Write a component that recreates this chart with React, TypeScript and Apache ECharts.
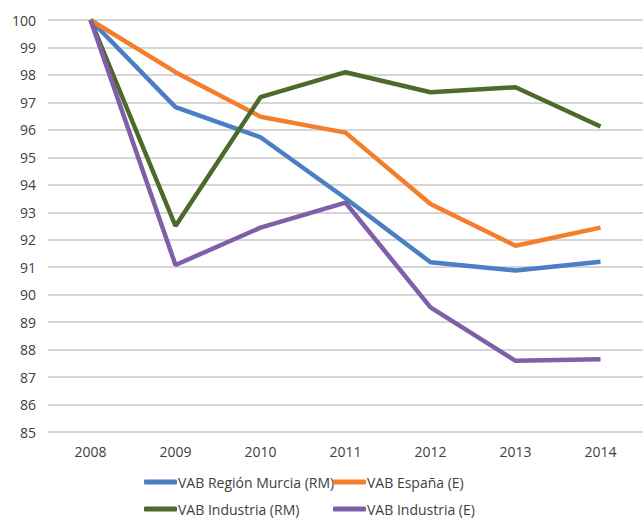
import React, { useEffect, useRef } from "react";
import * as echarts from "echarts";

const years = ["2008", "2009", "2010", "2011", "2012", "2013", "2014"];
const murcia = [100, 96.83, 95.73, 93.51, 91.18, 90.88, 91.2];
const espana = [100, 98.1, 96.48, 95.9, 93.3, 91.78, 92.44];
const industriaRM = [100, 92.5, 97.19, 98.1, 97.37, 97.55, 96.12];
const industriaE = [100, 91.08, 92.44, 93.35, 89.54, 87.59, 87.65];

const names = [
  "VAB Región Murcia (RM)",
  "VAB España (E)",
  "VAB Industria (RM)",
  "VAB Industria (E)",
];
const colors = ["#4A7FC4", "#F47E2C", "#4E6A2A", "#7F5FA8"];
const seriesData = [murcia, espana, industriaRM, industriaE];

export default function App() {
  const ref = useRef<HTMLDivElement>(null);
  useEffect(() => {
    if (!ref.current) return;
    const chart = echarts.init(ref.current, undefined, { renderer: "svg" });
    const font = "'Open Sans', 'Liberation Sans', sans-serif";
    const legendPos = [
      { left: 144, top: 475 },
      { left: 333, top: 475 },
      { left: 144, top: 502 },
      { left: 333, top: 502 },
    ];
    const legends = names.map((n, i) => ({
      ...legendPos[i],
      padding: 0,
      data: [n],
      itemWidth: 33,
      itemHeight: 5,
      icon: "roundRect",
      textStyle: {
        color: "#404040",
        fontSize: 14,
        fontFamily: font,
        padding: [0, 0, 0, -4],
      },
    }));
    chart.setOption({
      animation: false,
      backgroundColor: "#ffffff",
      color: colors,
      grid: { left: 48, right: 0, top: 20, bottom: 86 },
      legend: legends,
      xAxis: {
        type: "category",
        data: years,
        boundaryGap: true,
        axisLine: { show: false },
        axisTick: { show: false },
        axisLabel: { color: "#404040", fontSize: 14, fontFamily: font, margin: 12 },
      },
      yAxis: {
        type: "value",
        min: 85,
        max: 100,
        interval: 1,
        axisLine: { show: false },
        axisTick: { show: false },
        splitLine: { lineStyle: { color: "#c9c9c9", width: 1.5 } },
        axisLabel: { color: "#404040", fontSize: 14, fontFamily: font, margin: 12 },
      },
      series: seriesData.map((d, i) => ({
        name: names[i],
        type: "line",
        data: d,
        symbol: "none",
        lineStyle: { width: 4.5, color: colors[i] },
        itemStyle: { color: colors[i] },
      })),
    });
    return () => chart.dispose();
  }, []);
  return <div ref={ref} style={{ width: 643, height: 518, position: "absolute", left: 0, top: 0 }} />;
}
